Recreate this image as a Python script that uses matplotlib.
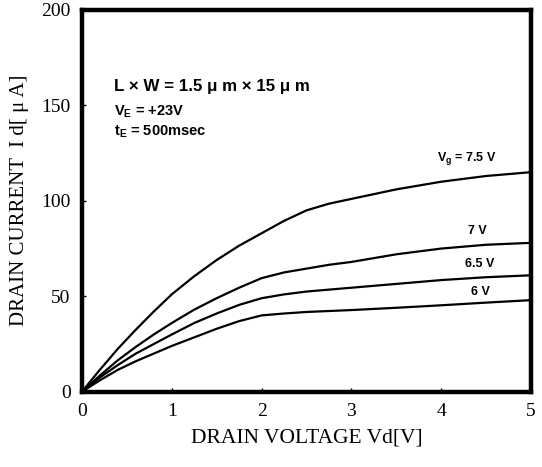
import matplotlib
matplotlib.use("Agg")
import matplotlib.pyplot as plt

plt.rcParams['mathtext.fontset'] = 'custom'
plt.rcParams['mathtext.rm'] = 'Liberation Sans:bold'
plt.rcParams['mathtext.bf'] = 'Liberation Sans:bold'
plt.rcParams['mathtext.it'] = 'Liberation Sans:bold'

vd = [0, 0.2, 0.4, 0.6, 0.8, 1.0, 1.25, 1.5, 1.75, 2.0, 2.25, 2.5, 2.75, 3.0, 3.5, 4.0, 4.5, 5.0]
id_75 = [0, 11.5, 22.5, 32.5, 42, 51, 60.5, 69, 76.5, 83, 89.5, 95, 98.5, 101, 106, 110, 113, 115]
id_70 = [0, 8.5, 16.5, 23.5, 30, 36, 43, 49, 54.5, 59.5, 62.5, 64.5, 66.5, 68, 72, 75, 77, 78]
id_65 = [0, 7.5, 14, 20, 25, 30, 36, 41, 45.5, 49, 51, 52.5, 53.5, 54.5, 56.5, 58.5, 60, 61]
id_60 = [0, 6, 11.5, 16, 20, 24, 28.5, 33, 37, 40, 41, 41.8, 42.3, 42.8, 44, 45.3, 46.7, 48]

curve_labels = [r"V$_{\mathbf{g}}$ = 7.5 V", "7 V", "6.5 V", "6 V"]
label_x = [4.28, 4.40, 4.43, 4.43]
label_y = [122, 84, 67, 52]

xticks = [0, 1, 2, 3, 4, 5]
yticks = [0, 50, 100, 150, 200]

fig = plt.figure(figsize=(5.42, 4.67), dpi=100)
ax = fig.add_axes([0.151, 0.161, 0.829, 0.818])

for ys in (id_75, id_70, id_65, id_60):
    ax.plot(vd, ys, color='black', lw=1.6, solid_capstyle='round', solid_joinstyle='round')

for t, x, y in zip(curve_labels, label_x, label_y):
    ax.text(x, y, t, fontsize=9, fontweight='bold', family='Liberation Sans',
            ha='center', va='center')

ax.text(0.072, 0.80, "L × W = 1.5 μ m × 15 μ m", transform=ax.transAxes,
        fontsize=12.2, fontweight='bold', family='Liberation Sans', va='center')
ax.text(0.072, 0.733, r"V$_{\mathbf{E}}$ = +23V", transform=ax.transAxes,
        fontsize=10.5, fontweight='bold', family='Liberation Sans', va='center')
ax.text(0.072, 0.68, r"t$_{\mathbf{E}}$ = 500msec", transform=ax.transAxes,
        fontsize=10.5, fontweight='bold', family='Liberation Sans', va='center')

ax.set_xlim(0, 5)
ax.set_ylim(0, 200)
ax.set_xticks(xticks)
ax.set_yticks(yticks)
ax.set_xticklabels([str(v) for v in xticks], family='Liberation Serif', fontsize=14)
ax.set_yticklabels([str(v) for v in yticks], family='Liberation Serif', fontsize=14)
ax.tick_params(direction='in', length=3, width=1, pad=8)

for s in ax.spines.values():
    s.set_linewidth(3.2)

ax.set_xlabel("DRAIN VOLTAGE Vd[V]", family='Liberation Serif', fontsize=15.5, labelpad=6)
ax.set_ylabel("DRAIN CURRENT  I d[ μ A]", family='Liberation Serif', fontsize=15, labelpad=9)

fig.savefig("out.png", dpi=100)
